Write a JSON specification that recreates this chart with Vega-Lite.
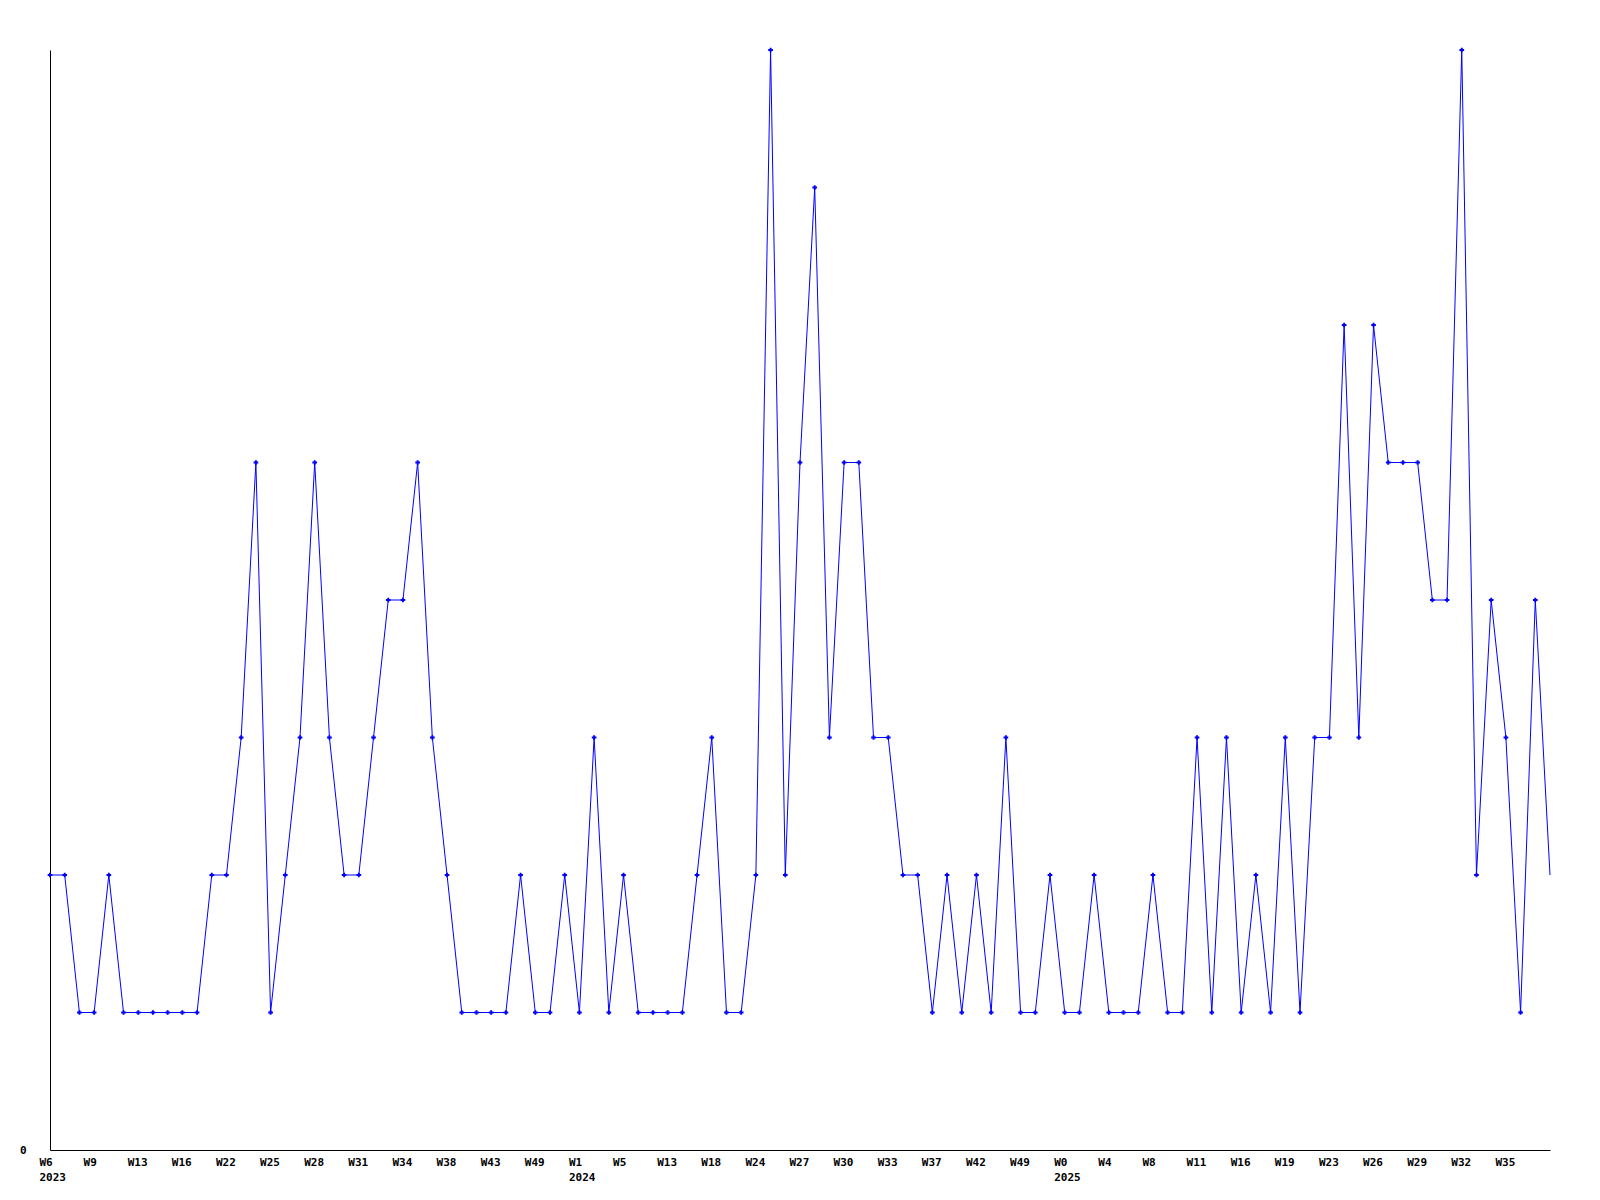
{
  "$schema": "https://vega.github.io/schema/vega-lite/v6.json",
  "width": 1500,
  "height": 1100,
  "autosize": {"type": "none"},
  "padding": {"left": 50, "top": 50, "right": 50, "bottom": 50},
  "background": "white",
  "config": {"view": {"stroke": null}},
  "data": {"values": [
    {"week": "2023-W6", "count": 2}, {"week": "2023-W7", "count": 2}, {"week": "2023-W8", "count": 1},
    {"week": "2023-W9", "count": 1}, {"week": "2023-W10", "count": 2}, {"week": "2023-W11", "count": 1},
    {"week": "2023-W13", "count": 1}, {"week": "2023-W14", "count": 1}, {"week": "2023-W15", "count": 1},
    {"week": "2023-W16", "count": 1}, {"week": "2023-W18", "count": 1}, {"week": "2023-W20", "count": 2},
    {"week": "2023-W22", "count": 2}, {"week": "2023-W23", "count": 3}, {"week": "2023-W24", "count": 5},
    {"week": "2023-W25", "count": 1}, {"week": "2023-W26", "count": 2}, {"week": "2023-W27", "count": 3},
    {"week": "2023-W28", "count": 5}, {"week": "2023-W29", "count": 3}, {"week": "2023-W30", "count": 2},
    {"week": "2023-W31", "count": 2}, {"week": "2023-W32", "count": 3}, {"week": "2023-W33", "count": 4},
    {"week": "2023-W34", "count": 4}, {"week": "2023-W35", "count": 5}, {"week": "2023-W36", "count": 3},
    {"week": "2023-W38", "count": 2}, {"week": "2023-W40", "count": 1}, {"week": "2023-W41", "count": 1},
    {"week": "2023-W43", "count": 1}, {"week": "2023-W45", "count": 1}, {"week": "2023-W47", "count": 2},
    {"week": "2023-W49", "count": 1}, {"week": "2023-W50", "count": 1}, {"week": "2023-W52", "count": 2},
    {"week": "2024-W1", "count": 1}, {"week": "2024-W2", "count": 3}, {"week": "2024-W3", "count": 1},
    {"week": "2024-W5", "count": 2}, {"week": "2024-W7", "count": 1}, {"week": "2024-W10", "count": 1},
    {"week": "2024-W13", "count": 1}, {"week": "2024-W15", "count": 1}, {"week": "2024-W16", "count": 2},
    {"week": "2024-W18", "count": 3}, {"week": "2024-W20", "count": 1}, {"week": "2024-W22", "count": 1},
    {"week": "2024-W24", "count": 2}, {"week": "2024-W25", "count": 8}, {"week": "2024-W26", "count": 2},
    {"week": "2024-W27", "count": 5}, {"week": "2024-W28", "count": 7}, {"week": "2024-W29", "count": 3},
    {"week": "2024-W30", "count": 5}, {"week": "2024-W31", "count": 5}, {"week": "2024-W32", "count": 3},
    {"week": "2024-W33", "count": 3}, {"week": "2024-W34", "count": 2}, {"week": "2024-W35", "count": 2},
    {"week": "2024-W37", "count": 1}, {"week": "2024-W39", "count": 2}, {"week": "2024-W40", "count": 1},
    {"week": "2024-W42", "count": 2}, {"week": "2024-W45", "count": 1}, {"week": "2024-W47", "count": 3},
    {"week": "2024-W49", "count": 1}, {"week": "2024-W50", "count": 1}, {"week": "2024-W52", "count": 2},
    {"week": "2025-W0", "count": 1}, {"week": "2025-W2", "count": 1}, {"week": "2025-W3", "count": 2},
    {"week": "2025-W4", "count": 1}, {"week": "2025-W6", "count": 1}, {"week": "2025-W7", "count": 1},
    {"week": "2025-W8", "count": 2}, {"week": "2025-W9", "count": 1}, {"week": "2025-W10", "count": 1},
    {"week": "2025-W11", "count": 3}, {"week": "2025-W13", "count": 1}, {"week": "2025-W14", "count": 3},
    {"week": "2025-W16", "count": 1}, {"week": "2025-W17", "count": 2}, {"week": "2025-W18", "count": 1},
    {"week": "2025-W19", "count": 3}, {"week": "2025-W21", "count": 1}, {"week": "2025-W22", "count": 3},
    {"week": "2025-W23", "count": 3}, {"week": "2025-W24", "count": 6}, {"week": "2025-W25", "count": 3},
    {"week": "2025-W26", "count": 6}, {"week": "2025-W27", "count": 5}, {"week": "2025-W28", "count": 5},
    {"week": "2025-W29", "count": 5}, {"week": "2025-W30", "count": 4}, {"week": "2025-W31", "count": 4},
    {"week": "2025-W32", "count": 8}, {"week": "2025-W33", "count": 2}, {"week": "2025-W34", "count": 4},
    {"week": "2025-W35", "count": 3}, {"week": "2025-W36", "count": 1}, {"week": "2025-W37", "count": 4},
    {"week": "2025-W38", "count": 2}
  ]},
  "encoding": {
    "x": {
      "field": "week",
      "type": "ordinal",
      "sort": null,
      "scale": {"type": "point", "padding": 0},
      "axis": {
        "title": null,
        "orient": "bottom",
        "ticks": false,
        "grid": false,
        "domainColor": "black",
        "domainWidth": 1,
        "labelAngle": 0,
        "labelAlign": "left",
        "labelBaseline": "top",
        "labelOffset": -11,
        "labelPadding": 6,
        "labelFont": "DejaVu Sans Mono",
        "labelFontWeight": "bold",
        "labelFontSize": 11,
        "labelColor": "black",
        "labelLineHeight": 15,
        "labelOverlap": false,
        "labelBound": false,
        "labelFlush": false,
        "values": ["2023-W6", "2023-W9", "2023-W13", "2023-W16", "2023-W22", "2023-W25", "2023-W28", "2023-W31", "2023-W34", "2023-W38", "2023-W43", "2023-W49", "2024-W1", "2024-W5", "2024-W13", "2024-W18", "2024-W24", "2024-W27", "2024-W30", "2024-W33", "2024-W37", "2024-W42", "2024-W49", "2025-W0", "2025-W4", "2025-W8", "2025-W11", "2025-W16", "2025-W19", "2025-W23", "2025-W26", "2025-W29", "2025-W32", "2025-W35"],
        "labelExpr": "indexof(['2023-W6','2024-W1','2025-W0'], datum.value) >= 0 ? [split(datum.value,'-')[1], split(datum.value,'-')[0]] : split(datum.value,'-')[1]"
      }
    },
    "y": {
      "field": "count",
      "type": "quantitative",
      "scale": {"domain": [0, 8], "nice": false, "zero": true},
      "axis": {
        "title": null,
        "values": [0],
        "ticks": false,
        "grid": false,
        "domainColor": "black",
        "domainWidth": 1,
        "labelPadding": 24,
        "labelOffset": 0,
        "labelFont": "DejaVu Sans Mono",
        "labelFontWeight": "bold",
        "labelFontSize": 11,
        "labelColor": "black"
      }
    }
  },
  "layer": [
    {"mark": {"type": "line", "color": "#0000ff", "strokeWidth": 1, "interpolate": "linear"}},
    {
      "transform": [{"filter": "datum.week != '2025-W38'"}],
      "mark": {"type": "point", "shape": "cross", "filled": true, "color": "#0000ff", "size": 22, "opacity": 1}
    }
  ]
}
